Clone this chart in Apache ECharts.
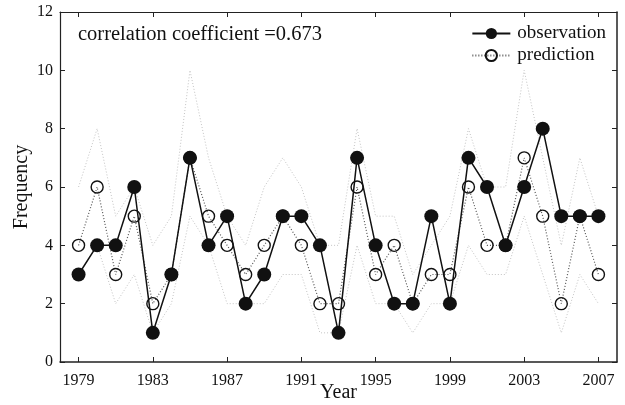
<!DOCTYPE html>
<html>
<head>
<meta charset="utf-8">
<script src="https://cdn.jsdelivr.net/npm/echarts@6/dist/echarts.min.js"></script>
<style>
  html, body { margin: 0; padding: 0; background: #fff; }
  #chart { width: 625px; height: 405px; }
</style>
</head>
<body>
<div id="chart"></div>
<script>
// Annual frequency: observed counts, model prediction and its band
const years = [1979,1980,1981,1982,1983,1984,1985,1986,1987,1988,1989,1990,1991,1992,1993,1994,1995,1996,1997,1998,1999,2000,2001,2002,2003,2004,2005,2006,2007];
const observation = [3,4,4,6,1,3,7,4,5,2,3,5,5,4,1,7,4,2,2,5,2,7,6,4,6,8,5,5,5];
const prediction  = [4,6,3,5,2,3,7,5,4,3,4,5,4,2,2,6,3,4,2,3,3,6,4,4,7,5,2,5,3];
const upperBound  = [6,8,5,6,4,5,10,7,5,4,6,7,6,4,4,8,5,5,3,4,5,8,6,6,10,7,4,7,5];
const lowerBound  = [3,4,2,3,1,2,5,4,2,2,2,3,3,1,1,4,2,2,1,2,2,4,3,3,5,3,1,3,2];
const xTicks = [1979,1983,1987,1991,1995,1999,2003,2007];
const yTicks = [0,2,4,6,8,10,12];
const corrText = 'correlation coefficient =0.673';

const pairs = arr => years.map((y, i) => [y, arr[i]]);
const FONT = 'Liberation Serif';

const chart = echarts.init(document.getElementById('chart'), null, { renderer: 'canvas' });

const xBase = {
  type: 'value', min: 1978, max: 2008,
  splitLine: { show: false },
  axisLine: { show: true, onZero: false, lineStyle: { color: '#222', width: 1.5 } },
  axisTick: { show: true, inside: true, length: 5, customValues: xTicks, lineStyle: { color: '#222' } },
};
const yBase = {
  type: 'value', min: 0, max: 12, interval: 2,
  splitLine: { show: false },
  axisLine: { show: true, lineStyle: { color: '#222', width: 1.2 } },
  axisTick: { show: true, inside: true, length: 5, customValues: yTicks, lineStyle: { color: '#222' } },
};

chart.setOption({
  animation: false,
  backgroundColor: '#fff',
  textStyle: { fontFamily: FONT },
  grid: { left: 60, right: 8, top: 12, bottom: 43, outerBoundsMode: 'none', containLabel: false },
  title: {
    text: corrText, left: 73, top: 19,
    textStyle: { fontFamily: FONT, fontSize: 20.5, fontWeight: 'normal', color: '#111' }
  },
  legend: {
    data: ['observation', 'prediction'],
    orient: 'vertical', right: 14, top: 19,
    itemWidth: 38, itemHeight: 14, itemGap: 3,
    textStyle: { fontFamily: FONT, fontSize: 19, color: '#111', padding: [0, 0, 0, 2] }
  },
  xAxis: [
    Object.assign({}, xBase, {
      position: 'bottom',
      name: 'Year', nameLocation: 'middle', nameGap: 21, nameMoveOverlap: false,
      nameTextStyle: { fontFamily: FONT, fontSize: 20, color: '#111' },
      axisLabel: {
        show: true, customValues: xTicks, margin: 11,
        fontFamily: FONT, fontSize: 16, color: '#111',
        formatter: v => String(v)
      }
    }),
    Object.assign({}, xBase, {
      position: 'top',
      axisLabel: { show: false },
      axisLine: { show: true, onZero: false, lineStyle: { color: '#222', width: 1.2 } }
    })
  ],
  yAxis: [
    Object.assign({}, yBase, {
      position: 'left',
      name: 'Frequency', nameLocation: 'middle', nameGap: 28, nameMoveOverlap: false,
      nameTextStyle: { fontFamily: FONT, fontSize: 20, color: '#111' },
      axisLabel: { margin: 7, fontFamily: FONT, fontSize: 16, color: '#111' }
    }),
    Object.assign({}, yBase, {
      position: 'right',
      axisLabel: { show: false },
      axisLine: { show: true, lineStyle: { color: '#222', width: 1.5 } }
    })
  ],
  series: [
    {
      name: 'upper', type: 'line', data: pairs(upperBound),
      symbol: 'none', silent: true, z: 1,
      lineStyle: { color: '#c4c4c4', width: 1, type: [1, 2] }
    },
    {
      name: 'lower', type: 'line', data: pairs(lowerBound),
      symbol: 'none', silent: true, z: 1,
      lineStyle: { color: '#c4c4c4', width: 1, type: [1, 2] }
    },
    {
      name: 'prediction', type: 'line', data: pairs(prediction),
      symbol: 'circle', symbolSize: 12, z: 2,
      itemStyle: { color: 'rgba(255,255,255,0)', borderColor: '#111', borderWidth: 1.4 },
      lineStyle: { color: '#555', width: 1.2, type: [1, 2] }
    },
    {
      name: 'observation', type: 'line', data: pairs(observation),
      symbol: 'circle', symbolSize: 14, z: 3,
      itemStyle: { color: '#111', borderColor: '#111', borderWidth: 0 },
      lineStyle: { color: '#111', width: 1.5 }
    }
  ]
});
</script>
</body>
</html>
